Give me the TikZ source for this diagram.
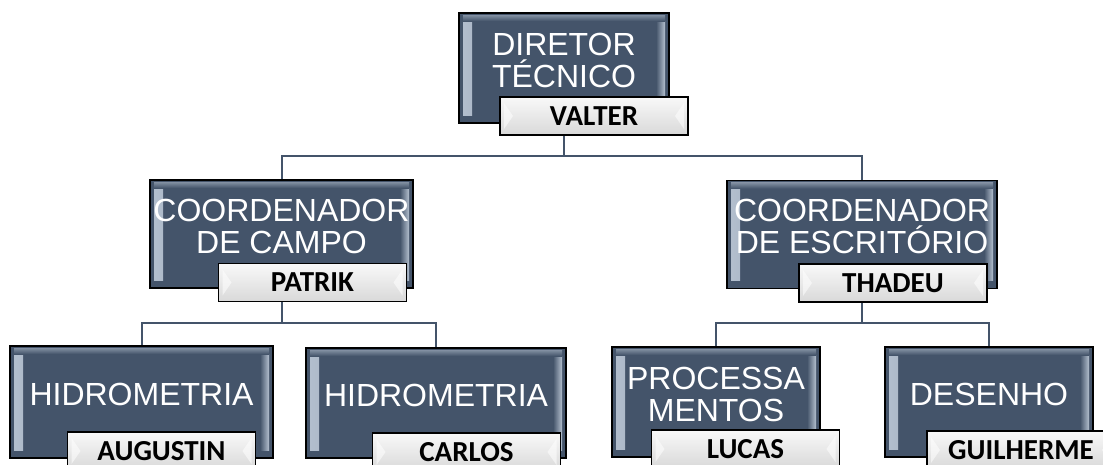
\documentclass[tikz,border=0pt]{standalone}
\usepackage{fontspec}
\setmainfont{Liberation Sans}
\newfontfamily\lblfont{Carlito}
\usetikzlibrary{positioning, backgrounds}

\definecolor{slate}{HTML}{44546A}
\definecolor{bevel}{HTML}{B4C0CF}

\begin{document}
\begin{tikzpicture}[x=1pt, y=-1pt,
            unit/.style={rectangle, draw=black, line width=1.5pt, fill=slate, text=white,
                inner sep=0pt, align=center, font=\fontsize{32}{32}\selectfont,
                execute at end node={\rule[-16pt]{0pt}{0pt}},
                path picture={
                    \fill[left color=bevel, right color=slate]
                        ([xshift=4pt, yshift=-8pt]path picture bounding box.north west) rectangle
                        ([xshift=13pt, yshift=8pt]path picture bounding box.south west);
                    \fill[left color=slate, right color=bevel]
                        ([xshift=-13pt, yshift=-8pt]path picture bounding box.north east) rectangle
                        ([xshift=-4pt, yshift=8pt]path picture bounding box.south east);
                    \fill[top color=bevel!55!slate, bottom color=slate]
                        ([xshift=4pt, yshift=-2pt]path picture bounding box.north west) rectangle
                        ([xshift=-4pt, yshift=-8pt]path picture bounding box.north east);
                }},
            tag/.style={rectangle, draw=black, line width=1.2pt, top color=gray!5, bottom color=gray!30,
                minimum width=188pt, minimum height=38pt, inner sep=0pt,
                font=\lblfont\bfseries\fontsize{29}{30}\selectfont,
                path picture={
                    \fill[white, opacity=0.55]
                        ([xshift=4pt, yshift=-6pt]path picture bounding box.north west) --
                        ([xshift=13pt]path picture bounding box.west) --
                        ([xshift=4pt, yshift=6pt]path picture bounding box.south west) -- cycle;
                    \fill[white, opacity=0.55]
                        ([xshift=-4pt, yshift=-6pt]path picture bounding box.north east) --
                        ([xshift=-13pt]path picture bounding box.east) --
                        ([xshift=-4pt, yshift=6pt]path picture bounding box.south east) -- cycle;
                }},
            link/.style={draw=slate, line width=2pt}
        ]
            \useasboundingbox (0,0) rectangle (1103,464);
            \clip (0,0) rectangle (1103,464);

            % level 0
            \node[unit, minimum width=210pt, minimum height=110pt] (diretor) at (564,68) {DIRETOR\\TÉCNICO};
            \node[tag] (valter) at (594,116) {VALTER};

            % level 1
            \node[unit, minimum width=263pt, minimum height=108pt] (campo) at (281.5,234) {COORDENADOR\\DE CAMPO};
            \node[tag] (patrik) at (312.5,282.5) {PATRIK};
            \node[unit, minimum width=270pt, minimum height=108pt] (escrit) at (862,234.5) {COORDENADOR\\DE ESCRITÓRIO};
            \node[tag] (thadeu) at (893,283) {THADEU};

            % level 2
            \node[unit, minimum width=263pt, minimum height=112pt] (hidroA) at (141.5,402) {HIDROMETRIA};
            \node[tag] (augustin) at (161.5,451) {AUGUSTIN};
            \node[unit, minimum width=260pt, minimum height=110pt] (hidroB) at (436,403) {HIDROMETRIA};
            \node[tag] (carlos) at (466.5,452) {CARLOS};
            \node[unit, minimum width=208pt, minimum height=110pt] (proc) at (716,402) {PROCESSA\\MENTOS};
            \node[tag] (lucas) at (745.5,449) {LUCAS};
            \node[unit, minimum width=208pt, minimum height=110pt] (desenho) at (989,402) {DESENHO};
            \node[tag] (guilherme) at (1021,450) {GUILHERME};

            % connectors
            \coordinate (busA) at (diretor.south |- 0,156);
            \coordinate (busB) at (campo.south |- 0,323);
            \coordinate (busC) at (escrit.south |- 0,323);
            \begin{scope}[on background layer]
                \draw[link] (diretor.south) -- (busA) -| (campo.north);
                \draw[link] (busA) -| (escrit.north);
                \draw[link] (campo.south) -- (busB) -| (hidroA.north);
                \draw[link] (busB) -| (hidroB.north);
                \draw[link] (escrit.south) -- (busC) -| (proc.north);
                \draw[link] (busC) -| (desenho.north);
            \end{scope}
        \end{tikzpicture}
\end{document}
